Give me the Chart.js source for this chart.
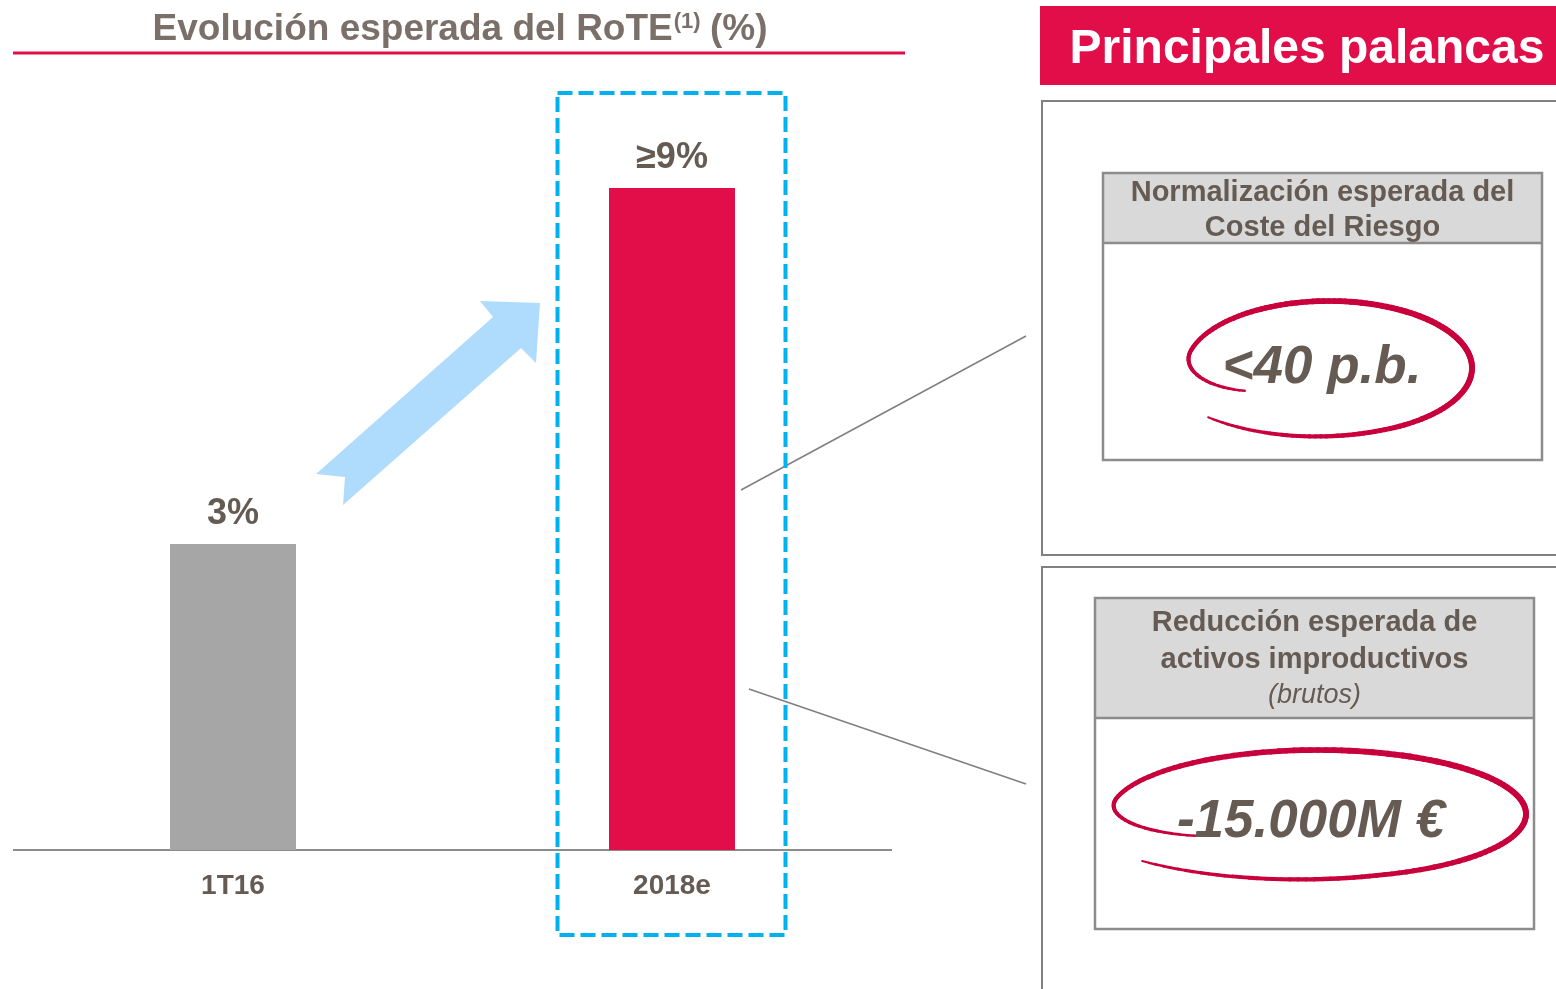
<!DOCTYPE html>
<html>
<head>
<meta charset="utf-8">
<script src="https://cdn.jsdelivr.net/npm/chart.js@4.4.1/dist/chart.umd.min.js"></script>
<style>
  html, body { margin: 0; padding: 0; background: #fff; }
  canvas { display: block; }
</style>
</head>
<body>
<canvas id="c" width="1556" height="989"></canvas>
<script>
const categories = ['1T16', '2018e'];
const rote = [3, 9];
const roteLabels = ['3%', '≥9%'];
const barColors = ['#a6a6a6', '#e20e4a'];

const leverHeaders = [
    ['Normalización esperada del', 'Coste del Riesgo'],
    ['Reducción esperada de', 'activos improductivos'],
];
const leverNotes = ['', '(brutos)'];
const leverValues = ['<40 p.b.', '-15.000M €'];

const FONT = '"Liberation Sans", Arial, sans-serif';
const TEXT = '#655b53';
const RED = '#e20e4a';
// the slide does not draw its bars to scale, so the bars start below zero
const Y_MIN = -2.16;
const Y_MAX = 10;

function drawLoop(ctx, cx, cy, rx, ry) {
    const a0 = 150, a1 = 499, n = 160;
    let prev = null;
    ctx.save();
    ctx.strokeStyle = '#c8003c';
    ctx.lineCap = 'round';
    for (let i = 0; i <= n; i++) {
        const a = a0 + (a1 - a0) * i / n;
        const s = Math.min(1, (a - a0) / 45);
        let r = 1 - 0.32 * (1 - s) * (1 - s);
        r += 0.12 * Math.pow(Math.max(0, (a - 430) / 69), 1.5);
        const t = a * Math.PI / 180;
        const p = [cx + rx * r * Math.cos(t), cy + ry * r * Math.sin(t)];
        if (prev) {
            ctx.lineWidth = 2 + 4 * Math.pow(Math.sin(Math.PI * i / n), 0.6);
            ctx.beginPath();
            ctx.moveTo(prev[0], prev[1]);
            ctx.lineTo(p[0], p[1]);
            ctx.stroke();
        }
        prev = p;
    }
    ctx.restore();
}

function leverBox(ctx, x, y, w, h, headH, lines, note, value, lineYs, valueX, valueY, loop) {
    ctx.fillStyle = '#d9d9d9';
    ctx.fillRect(x, y, w, headH);
    ctx.strokeStyle = '#8c8c8c';
    ctx.lineWidth = 2.5;
    ctx.strokeRect(x, y, w, h);
    ctx.beginPath();
    ctx.moveTo(x, y + headH);
    ctx.lineTo(x + w, y + headH);
    ctx.stroke();

    ctx.fillStyle = TEXT;
    ctx.textAlign = 'center';
    ctx.textBaseline = 'middle';
    ctx.font = `bold 29px ${FONT}`;
    lines.forEach((l, i) => ctx.fillText(l, x + w / 2, lineYs[i]));
    if (note) {
        ctx.font = `italic 27px ${FONT}`;
        ctx.fillText(note, x + w / 2, lineYs[lines.length]);
    }
    drawLoop(ctx, loop[0], loop[1], loop[2], loop[3]);
    ctx.fillStyle = TEXT;
    ctx.font = `italic bold 53px ${FONT}`;
    ctx.fillText(value, valueX, valueY);
}

const decor = {
    id: 'decor',
    beforeDraw(chart) {
        const ctx = chart.ctx;
        ctx.save();
        ctx.fillStyle = '#fff';
        ctx.fillRect(0, 0, chart.width, chart.height);

        // title with superscript
        const t1 = 'Evolución esperada del RoTE', sup = '(1)', t2 = ' (%)';
        ctx.font = `bold 37px ${FONT}`;
        const w1 = ctx.measureText(t1).width, w2 = ctx.measureText(t2).width;
        ctx.font = `bold 22px ${FONT}`;
        const ws = ctx.measureText(sup).width;
        let x = 460 - (w1 + ws + w2) / 2;
        ctx.fillStyle = '#7b7069';
        ctx.textAlign = 'left';
        ctx.textBaseline = 'alphabetic';
        ctx.font = `bold 37px ${FONT}`;
        ctx.fillText(t1, x, 40);
        ctx.font = `bold 22px ${FONT}`;
        ctx.fillText(sup, x + w1 + 1, 28);
        ctx.font = `bold 37px ${FONT}`;
        ctx.fillText(t2, x + w1 + ws, 40);

        ctx.strokeStyle = RED;
        ctx.lineWidth = 3;
        ctx.beginPath();
        ctx.moveTo(13, 53);
        ctx.lineTo(905, 53);
        ctx.stroke();

        // light blue arrow
        const arrow = [[316, 474], [493, 317], [480, 301], [540, 303], [536, 363], [521, 348], [343, 505], [345, 477]];
        ctx.fillStyle = '#afdcfd';
        ctx.beginPath();
        arrow.forEach((p, i) => i ? ctx.lineTo(p[0], p[1]) : ctx.moveTo(p[0], p[1]));
        ctx.closePath();
        ctx.fill();

        // right panel
        ctx.fillStyle = RED;
        ctx.fillRect(1040, 6, 520, 79);
        ctx.fillStyle = '#fff';
        ctx.font = `bold 48px ${FONT}`;
        ctx.textAlign = 'center';
        ctx.textBaseline = 'alphabetic';
        ctx.fillText('Principales palancas', 1307, 63);

        ctx.strokeStyle = '#808080';
        ctx.lineWidth = 2;
        ctx.strokeRect(1042, 101, 530, 454);
        ctx.strokeRect(1042, 567, 530, 440);

        leverBox(ctx, 1103, 173, 439, 287, 70, leverHeaders[0], leverNotes[0], leverValues[0],
            [193, 228], 1322, 368, [1329, 368, 143, 67]);
        leverBox(ctx, 1095, 598, 439, 331, 120, leverHeaders[1], leverNotes[1], leverValues[1],
            [623, 660, 695], 1311, 822, [1318, 814, 208, 64]);

        // connectors
        ctx.strokeStyle = '#7f7f7f';
        ctx.lineWidth = 1.5;
        ctx.beginPath();
        ctx.moveTo(741, 490);
        ctx.lineTo(1026, 336);
        ctx.moveTo(749, 689);
        ctx.lineTo(1026, 784);
        ctx.stroke();
        ctx.restore();
    },
    afterDatasetsDraw(chart) {
        const ctx = chart.ctx;
        const meta = chart.getDatasetMeta(0);
        ctx.save();
        ctx.fillStyle = TEXT;
        ctx.font = `bold 36px ${FONT}`;
        ctx.textAlign = 'center';
        ctx.textBaseline = 'middle';
        meta.data.forEach((bar, i) => {
            ctx.fillText(roteLabels[i], bar.x, bar.y - 30);
        });

        // dashed highlight around the 2018e bar
        const xc = meta.data[1].x;
        ctx.strokeStyle = '#00b0f0';
        ctx.lineWidth = 4;
        ctx.setLineDash([15, 6]);
        ctx.strokeRect(xc - 114.5, 93, 228, 842);
        ctx.restore();
    }
};

new Chart(document.getElementById('c'), {
    type: 'bar',
    data: {
        labels: categories,
        datasets: [{
            data: rote,
            backgroundColor: barColors,
            base: Y_MIN,
            barPercentage: 1,
            categoryPercentage: 0.287,
        }]
    },
    options: {
        responsive: false,
        devicePixelRatio: 1,
        animation: false,
        layout: { padding: { left: 13.5, right: 664.5, top: 128.7, bottom: 0 } },
        plugins: {
            legend: { display: false },
            tooltip: { enabled: false }
        },
        scales: {
            x: {
                grid: { display: false, drawTicks: false, tickLength: 0 },
                border: { color: '#8c8c8c', width: 2 },
                ticks: {
                    color: TEXT,
                    padding: 19,
                    font: { family: FONT, size: 28, weight: 'bold' }
                },
                afterFit: (scale) => { scale.height = 139; }
            },
            y: { display: false, min: Y_MIN, max: Y_MAX }
        }
    },
    plugins: [decor]
});
</script>
</body>
</html>
